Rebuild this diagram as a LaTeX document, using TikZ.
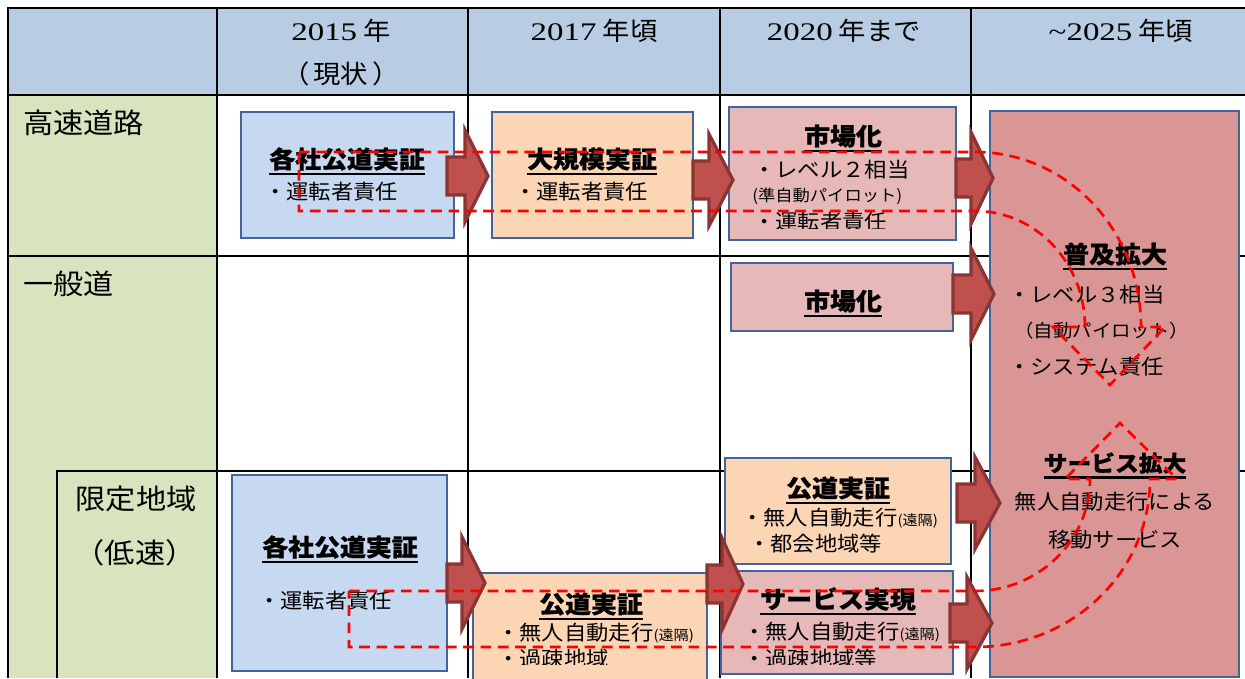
\documentclass[tikz,border=0pt]{standalone}
\usepackage{fontspec}
\setmainfont{Liberation Serif}
\newfontfamily\cjk[FakeStretch=1.08,BoldFeatures={FakeBold=0.8}]{Noto Sans CJK JP}
\newfontfamily\digs[FakeStretch=1.3]{Liberation Serif}
\usetikzlibrary{fit}
\definecolor{hdrblue}{HTML}{B8CCE4}
\definecolor{grn}{HTML}{D7E4BD}
\definecolor{bblue}{HTML}{C6D9F1}
\definecolor{peach}{HTML}{FCD5B5}
\definecolor{pink}{HTML}{E6B9B8}
\definecolor{bigpink}{HTML}{D99694}
\definecolor{boxline}{HTML}{41659A}
\definecolor{arrowfill}{HTML}{C0504D}
\definecolor{arrowline}{HTML}{8A3533}
\newcommand\ulx[1]{\setbox0=\hbox{#1}\rlap{\smash{\rule[-5.4pt]{\wd0}{1.9pt}}}\box0}
\newcommand\blockarrow[4]{\draw[barrow] (#1,#4-19) -- (#2,#4-19) -- (#2,#4-46) -- (#3,#4) -- (#2,#4+46) -- (#2,#4+19) -- (#1,#4+19) -- cycle;}
\begin{document}
\begin{tikzpicture}[x=0.75pt,y=-0.75pt,
  gridline/.style={line width=1.7pt, black},
  box/.style={draw=boxline, line width=1.4pt, inner sep=0pt},
  barrow/.style={fill=arrowfill, draw=arrowline, line width=2.4pt, line join=miter},
  dashline/.style={draw=red, line width=2pt, dash pattern=on 8pt off 5pt},
  ttl/.style={font=\cjk\bfseries\fontsize{18}{18}\selectfont, inner sep=0pt},
  ttls/.style={font=\cjk\bfseries\fontsize{16.5}{16.5}\selectfont, inner sep=0pt},
  sub/.style={font=\cjk\fontsize{15.5}{15.5}\selectfont, inner sep=0pt},
  subs/.style={font=\cjk\fontsize{12}{12}\selectfont, inner sep=0pt},
  subm/.style={font=\cjk\fontsize{13.5}{13.5}\selectfont, inner sep=0pt},
  lbl/.style={font=\cjk\fontsize{21}{21}\selectfont, inner sep=0pt},
  hd/.style={font=\cjk\fontsize{19}{19}\selectfont, inner sep=0pt}]
\useasboundingbox (0,0) rectangle (1245,678);
\clip (0,0) rectangle (1245,678);
% table fills
\fill[hdrblue] (8,8) rectangle (1245,95);
\fill[grn] (8,95) rectangle (217,678);
% grid
\draw[gridline] (8,678) -- (8,8) -- (1245,8);
\draw[gridline] (8,95) -- (1245,95);
\draw[gridline] (8,256) -- (1245,256);
\draw[gridline] (57,678) -- (57,471) -- (1245,471);
\foreach \xx in {217,468,720,971} \draw[gridline] (\xx,8) -- (\xx,678);
% header texts
\node[hd] (h1) at (341,31) {{\digs 2015} 年};
\node[hd] (h1b) at (341,74) {（\hspace{3pt}現状\hspace{3pt}）};
\node[hd] (h2) at (594,31) {{\digs 2017} 年頃};
\node[hd] (h3) at (844,31) {{\digs 2020} 年まで};
\node[hd] (h4) at (1121,31) {{\digs\textasciitilde 2025} 年頃};
% row labels
\node[lbl, anchor=west] (l1) at (23,123) {高速道路};
\node[lbl, anchor=west] (l2) at (23,284) {一般道};
\node[lbl] (l3) at (136,499) {限定地域};
\node[lbl] (l4) at (135,553) {（低速）};
% boxes
\node[box, fill=bblue, fit={(241,112) (454,238)}] (b1) {};
\node[box, fill=peach, fit={(492,112) (693,238)}] (b2) {};
\node[box, fill=pink, fit={(729,107) (956,240)}] (b3) {};
\node[box, fill=pink, fit={(731,263) (953,331)}] (b4) {};
\node[box, fill=bigpink, fit={(990,111) (1239,677)}] (big) {};
\node[box, fill=peach, fit={(725,458) (951,564)}] (b5) {};
\node[box, fill=bblue, fit={(232,475) (447,671)}] (b6) {};
\node[box, fill=peach, fit={(473,573) (707,680)}] (b7) {};
\node[box, fill=pink, fit={(721,571) (953,674)}] (b8) {};
% block arrows
\blockarrow{447}{465}{488}{176}
\blockarrow{693}{709}{733}{180}
\blockarrow{956}{971}{993}{178}
\blockarrow{953}{971}{994}{294}
\blockarrow{447}{462}{485}{583}
\blockarrow{707}{722}{743}{584}
\blockarrow{957}{975}{1000}{503}
\blockarrow{950}{967}{992}{623}
% box texts
\node[ttl] (t1) at (347,159) {\ulx{各社公道実証}};
\node[sub, anchor=west] (s1) at (264,192) {・運転者責任};
\node[ttl] (t2) at (592,159) {\ulx{大規模実証}};
\node[sub, anchor=west] (s2) at (514,192) {・運転者責任};
\node[ttl] (t3) at (843,136) {\ulx{市場化}};
\node[sub, anchor=west] (s3a) at (753,170) {・レベル２相当};
\node[subs, anchor=west] (s3b) at (752,196) {(準自動パイロット)};
\begin{scope}
\clip (700,100) rectangle (960,228);
\node[sub, anchor=west] (s3c) at (753,222) {・運転者責任};
\end{scope}
\node[ttl] (t4) at (843,301) {\ulx{市場化}};
\node[ttl] (t5) at (1115,254) {\ulx{普及拡大}};
\node[sub, anchor=west] (s5a) at (1008,295) {・レベル３相当};
\node[subm, anchor=west] (s5b) at (1014,331) {（自動パイロット）};
\node[sub, anchor=west] (s5c) at (1008,367) {・システム責任};
\node[ttls] (t6) at (1115,463) {\ulx{サービス拡大}};
\node[sub] (s6a) at (1115,502) {無人自動走行による};
\node[sub] (s6b) at (1115,540) {移動サービス};
\node[ttl] (t7) at (838,488) {\ulx{公道実証}};
\node[sub, anchor=west] (s7a) at (741,518) {・無人自動走行{\fontsize{10.5}{10.5}\selectfont(遠隔)}};
\node[sub, anchor=west] (s7b) at (748,544) {・都会地域等};
\node[ttl] (t8) at (838,599) {\ulx{サービス実現}};
\node[sub, anchor=west] (s8a) at (743,632) {・無人自動走行{\fontsize{10.5}{10.5}\selectfont(遠隔)}};
\node[ttl] (t9) at (591,604) {\ulx{公道実証}};
\node[sub, anchor=west] (s9a) at (497,633) {・無人自動走行{\fontsize{10.5}{10.5}\selectfont(遠隔)}};
\begin{scope}
\clip (460,560) rectangle (960,664);
\node[sub, anchor=west] (s8b) at (743,659) {・過疎地域等};
\node[sub, anchor=west] (s9b) at (497,659) {・過疎地域};
\end{scope}
\node[ttl] (t10) at (340,547) {\ulx{各社公道実証}};
\node[sub, anchor=west] (s10) at (258,601) {・運転者責任};
% dashed outlines
\coordinate (dA1) at (299,152);
\coordinate (dA2) at (975,152);
\coordinate (dA3) at (1141,327);
\coordinate (dA4) at (1165,327);
\coordinate (dA5) at (1110,385);
\coordinate (dA6) at (1053,327);
\coordinate (dA7) at (1085,327);
\coordinate (dA8) at (975,211);
\coordinate (dA9) at (299,211);
\draw[dashline] (dA1) -- (dA2) .. controls (1067,152) and (1141,230) .. (dA3) -- (dA4) -- (dA5) -- (dA6) -- (dA7) .. controls (1085,263) and (1036,211) .. (dA8) -- (dA9) -- cycle;
\coordinate (dB1) at (349,591);
\coordinate (dB2) at (975,591);
\coordinate (dB3) at (1090,479);
\coordinate (dB4) at (1065,479);
\coordinate (dB5) at (1120,423);
\coordinate (dB6) at (1177,479);
\coordinate (dB7) at (1150,479);
\coordinate (dB8) at (975,647);
\coordinate (dB9) at (349,647);
\draw[dashline] (dB1) -- (dB2) .. controls (1038,591) and (1090,541) .. (dB3) -- (dB4) -- (dB5) -- (dB6) -- (dB7) .. controls (1150,572) and (1072,647) .. (dB8) -- (dB9) -- cycle;
\end{tikzpicture}
\end{document}
